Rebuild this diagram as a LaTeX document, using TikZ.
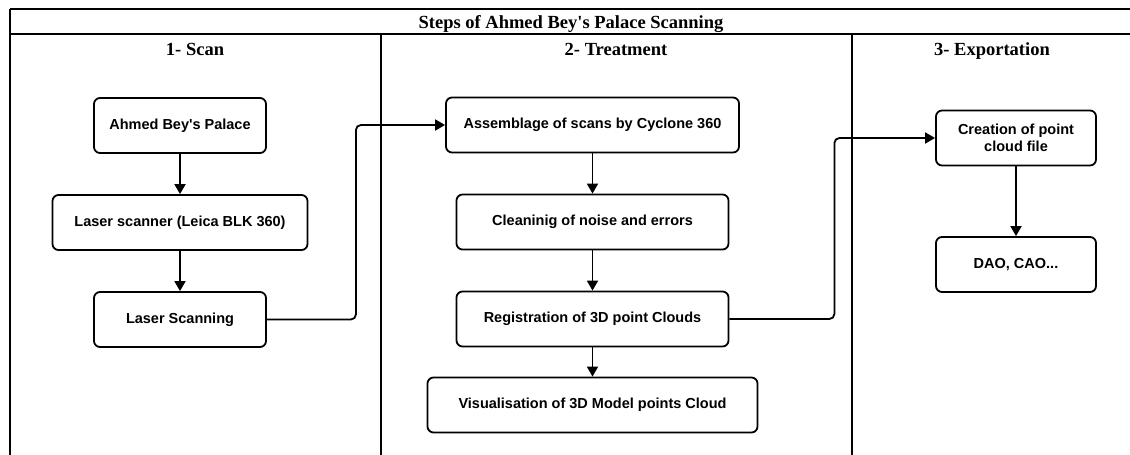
\documentclass[tikz,border=0pt]{standalone}
\usepackage{fontspec}
\setmainfont{Liberation Serif}
\setsansfont{Liberation Sans}
\usetikzlibrary{arrows.meta,positioning}
\tikzset{block/.style={
        draw,
        rectangle,
        rounded corners=6pt,
        line width=1.8pt,
        minimum height=55pt,
        align=center,
        font=\sffamily\bfseries\fontsize{14.5}{16.5}\selectfont,
    },
    flow/.style={-{Triangle[length=10pt,width=11pt]}, line width=1.8pt},
    heading/.style={anchor=base, font=\rmfamily\bfseries\fontsize{18.5}{20}\selectfont},
    lane/.style={line width=2pt}
}

\begin{document}
\begin{tikzpicture}[x=1pt,y=-1pt,node distance=97pt,on grid]
  \useasboundingbox (0,0) rectangle (1130,455);
  % lanes
  \draw[lane] (10,8.5) -- (1130,8.5);
  \draw[lane] (10,34) -- (1130,34);
  \draw[lane] (10,8.5) -- (10,455);
  \draw[lane] (381,34) -- (381,455);
  \draw[lane] (852,34) -- (852,455);
  \node[heading] (title) at (571,28) {Steps of Ahmed Bey\textquotesingle s Palace Scanning};
  \node[heading] (scan) at (195,55) {1- Scan};
  \node[heading] (treatment) at (616,55) {2- Treatment};
  \node[heading] (exportation) at (992,55) {3- Exportation};
  % 1- Scan
  \node[block, minimum width=172pt] (palace) at (180,125.5) {Ahmed Bey\textquotesingle s Palace};
  \node[block, minimum width=255pt] (scanner) [below=of palace] {Laser scanner (Leica BLK 360)};
  \node[block, minimum width=172pt] (scanning) [below=of scanner] {Laser Scanning};
  % 2- Treatment
  \node[block, minimum width=293pt] (assemblage) at (592.5,125) {Assemblage of scans by Cyclone 360};
  \node[block, minimum width=272pt] (cleaning) [below=of assemblage] {Cleaninig of noise and errors};
  \node[block, minimum width=272pt] (registration) [below=of cleaning] {Registration of 3D point Clouds};
  \node[block, minimum width=330pt] (visualisation) [below=86pt of registration] {Visualisation of 3D Model points Cloud};
  % 3- Exportation
  \node[block, minimum width=160pt] (creation) at (1016,138) {Creation of point\\cloud file};
  \node[block, minimum width=160pt] (dao) [below=126.5pt of creation] {DAO, CAO...};
  \draw[flow] (palace) -- (scanner);
  \draw[flow] (scanner) -- (scanning);
  \draw[flow] (assemblage) -- (cleaning);
  \draw[flow] (cleaning) -- (registration);
  \draw[flow] (registration) -- (visualisation);
  \draw[flow] (creation) -- (dao);
  \draw[flow, rounded corners=5pt] (scanning.east) -- ++(89,0) |- (assemblage.west);
  \draw[flow, rounded corners=5pt] (registration.east) -- ++(105,0) |- (creation.west);
\end{tikzpicture}
\end{document}
